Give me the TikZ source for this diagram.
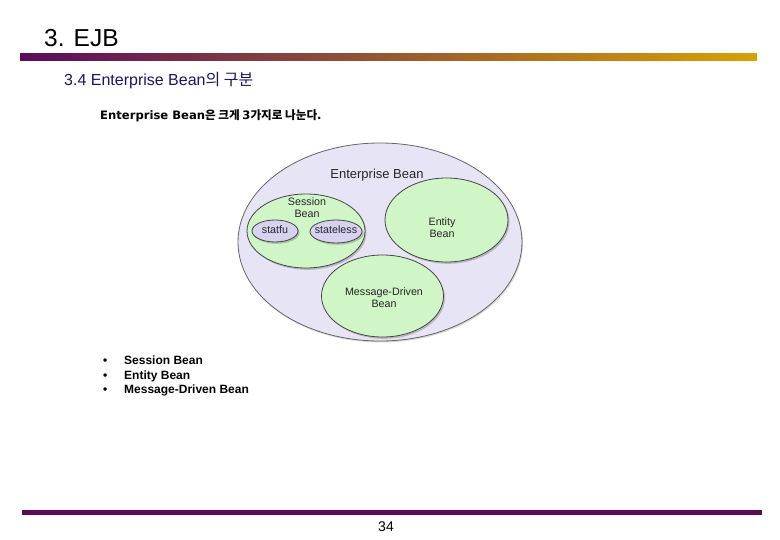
\documentclass[tikz,border=0pt]{standalone}
\usepackage{fontspec}
\setmainfont{Liberation Sans}
\newfontfamily\krfont{Noto Sans CJK KR}
\newfontfamily\dvfont{DejaVu Sans}
\usetikzlibrary{shapes.geometric,shadows}
\definecolor{barpurple}{RGB}{90,12,92}
\definecolor{bargold}{RGB}{214,162,4}
\definecolor{subnavy}{RGB}{22,22,112}
\definecolor{lavfill}{RGB}{230,228,245}
\definecolor{lavdark}{RGB}{214,210,240}
\definecolor{greenfill}{RGB}{208,245,198}
\definecolor{edgegray}{RGB}{70,70,70}
\tikzset{
  oval/.style={ellipse, draw=edgegray, line width=0.8pt, inner sep=0pt},
  shadowed/.style={drop shadow={opacity=0.45, shadow xshift=1.5pt, shadow yshift=-1.8pt}},
  dlabel/.style={font=\fontsize{10.7}{12}\selectfont, text=black!85, align=center, inner sep=0pt},
  introtext/.style={font=\dvfont\bfseries\fontsize{11.6}{13}\selectfont, anchor=base west, inner sep=0pt},
  bodytext/.style={font=\bfseries\fontsize{12}{14}\selectfont, anchor=base west, inner sep=0pt},
}
\begin{document}
\begin{tikzpicture}[x=1pt,y=-1pt]
\useasboundingbox (0,0) rectangle (780,540);
\fill[white] (0,0) rectangle (780,540);
% title
\node[anchor=base west, inner sep=0pt, font=\fontsize{24.5}{28}\selectfont] (title) at (44,47) {3. EJB};
\shade[left color=barpurple, right color=bargold] (20,54) rectangle (757,60.5);
\node[anchor=base west, inner sep=0pt, text=subnavy, font=\fontsize{16}{18}\selectfont] (sub) at (64,86) {3.4 Enterprise Bean{\krfont 의 구분}};
\node[introtext] (intro) at (100,120) {Enterprise Bean{\krfont\bfseries 은 크게 }3{\krfont\bfseries 가지로 나눈다}.};
% diagram
\node[oval, fill=lavfill, draw=black!60, minimum width=284pt, minimum height=198pt, drop shadow={opacity=0.3, shadow xshift=1pt, shadow yshift=-1.5pt}] (eb) at (380,242) {};
\node[oval, shadowed, fill=greenfill, minimum width=118pt, minimum height=74pt] (sess) at (306,231) {};
\node[oval, shadowed, fill=lavdark, minimum width=46pt, minimum height=22pt] (statfu) at (275,231) {};
\node[oval, shadowed, fill=lavdark, minimum width=52pt, minimum height=23pt] (stateless) at (336,231.5) {};
\node[oval, shadowed, fill=greenfill, minimum width=123pt, minimum height=84pt] (entity) at (446.5,220) {};
\node[oval, shadowed, fill=greenfill, minimum width=122pt, minimum height=82pt] (mdb) at (382.5,296) {};
\node[dlabel, font=\fontsize{13}{15}\selectfont] (ebl) at (377,175) {Enterprise Bean};
\node[dlabel] (sessl) at (307,207.5) {Session\\Bean};
\node[dlabel] (statful) at (275,230) {statfu};
\node[dlabel] (statelessl) at (336,230) {stateless};
\node[dlabel] (entityl) at (442,227.5) {Entity\\Bean};
\node[dlabel] (mdbl) at (384,298) {Message-Driven\\Bean};
% bullets
\node[bodytext] (b1) at (103,365) {\textbullet};
\node[bodytext] (t1) at (124,365) {Session Bean};
\node[bodytext] (b2) at (103,379.5) {\textbullet};
\node[bodytext] (t2) at (124,379.5) {Entity Bean};
\node[bodytext] (b3) at (103,394) {\textbullet};
\node[bodytext] (t3) at (124,394) {Message-Driven Bean};
% footer
\fill[barpurple] (22,510) rectangle (762,515);
\node[inner sep=0pt, font=\fontsize{14}{16}\selectfont] (pg) at (386,527) {34};
\end{tikzpicture}
\end{document}
